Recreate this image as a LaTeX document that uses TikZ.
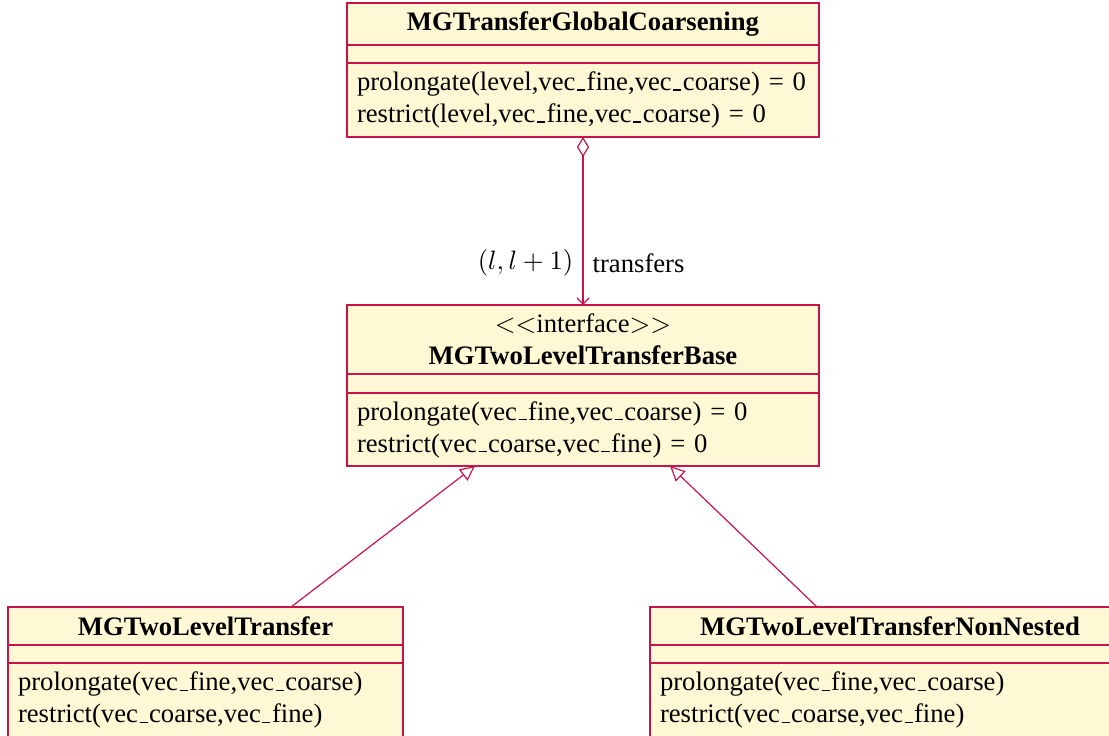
\documentclass[tikz,border=0pt]{standalone}
\usepackage{fontspec}
\setmainfont{Liberation Serif}
\usetikzlibrary{arrows.meta,calc}
\definecolor{umlred}{RGB}{200,20,75}
\definecolor{umlfill}{RGB}{255,248,212}
\newcommand\pxu{0.375pt}
% low rule underscore, as in classic LaTeX text
\newcommand\us{\leavevmode\kern.06em\vbox{\hrule width.3em}\kern.06em}
\tikzset{
  band/.style={draw=umlred, fill=umlfill, line width=0.45pt, inner sep=0pt, outer sep=0pt,
    font=\fontsize{10}{12}\selectfont},
  clsname/.style={band, font=\fontsize{10}{12}\selectfont\bfseries, align=center},
  clsops/.style={band, align=left, inner xsep={10*\pxu}},
  conn/.style={draw=umlred, line width=0.45pt},
  aggr/.style={conn, {Diamond[open,length=7.5pt,width=4.6pt,line width=0.45pt]}-{Straight Barb[length=2.4pt,width=4.6pt,line width=0.45pt]}},
  inherit/.style={conn, -{Triangle[open,length=5.6pt,width=5.3pt,line width=0.45pt]}},
  lbl/.style={font=\fontsize{10}{12}\selectfont, inner sep=3.4pt}
}
\begin{document}
\begin{tikzpicture}[x=\pxu, y=-\pxu]
\useasboundingbox (0,0) rectangle (1109,735);
\clip (0,0) rectangle (1109,735);

% MGTransferGlobalCoarsening
\node[clsname, minimum width={472*\pxu}, minimum height={42*\pxu}] (gc-name) at (583,24) {MGTransferGlobalCoarsening};
\node[band, minimum width={472*\pxu}, minimum height={18*\pxu}] (gc-attr) at (583,54) {};
\node[clsops, text width={452*\pxu}, minimum height={74*\pxu}] (gc-ops) at (583,100)
  {prolongate(level,vec\us fine,vec\us coarse) = 0\\restrict(level,vec\us fine,vec\us coarse) = 0};

% MGTwoLevelTransferBase
\node[clsname, minimum width={472*\pxu}, minimum height={69*\pxu}] (tb-name) at (583,339.5)
  {\mdseries$<<$interface$>>$\\MGTwoLevelTransferBase};
\node[band, minimum width={472*\pxu}, minimum height={19*\pxu}] (tb-attr) at (583,383.5) {};
\node[clsops, text width={452*\pxu}, minimum height={73*\pxu}] (tb-ops) at (583,429.5)
  {prolongate(vec\us fine,vec\us coarse) = 0\\restrict(vec\us coarse,vec\us fine) = 0};

% MGTwoLevelTransfer
\node[clsname, minimum width={395*\pxu}, minimum height={38*\pxu}] (tl-name) at (205.5,626) {MGTwoLevelTransfer};
\node[band, minimum width={395*\pxu}, minimum height={18*\pxu}] (tl-attr) at (205.5,654) {};
\node[clsops, text width={375*\pxu}, minimum height={74*\pxu}] (tl-ops) at (205.5,700)
  {prolongate(vec\us fine,vec\us coarse)\\restrict(vec\us coarse,vec\us fine)};

% MGTwoLevelTransferNonNested
\node[clsname, minimum width={480*\pxu}, minimum height={38*\pxu}] (nn-name) at (890,626) {MGTwoLevelTransferNonNested};
\node[band, minimum width={480*\pxu}, minimum height={18*\pxu}] (nn-attr) at (890,654) {};
\node[clsops, text width={460*\pxu}, minimum height={74*\pxu}] (nn-ops) at (890,700)
  {prolongate(vec\us fine,vec\us coarse)\\restrict(vec\us coarse,vec\us fine)};

% aggregation
\draw[aggr] (gc-ops.south) -- node[lbl, pos=0.75, left] {$(l,l+1)$}
  node[lbl, pos=0.75, right] {transfers} (tb-name.north);

% generalizations
\draw[inherit] ($(tl-name.north west)+(283,0)$) -- ($(tb-ops.south)+(-108,0)$);
\draw[inherit] ($(nn-name.north west)+(167,0)$) -- ($(tb-ops.south)+(87,0)$);
\end{tikzpicture}
\end{document}
